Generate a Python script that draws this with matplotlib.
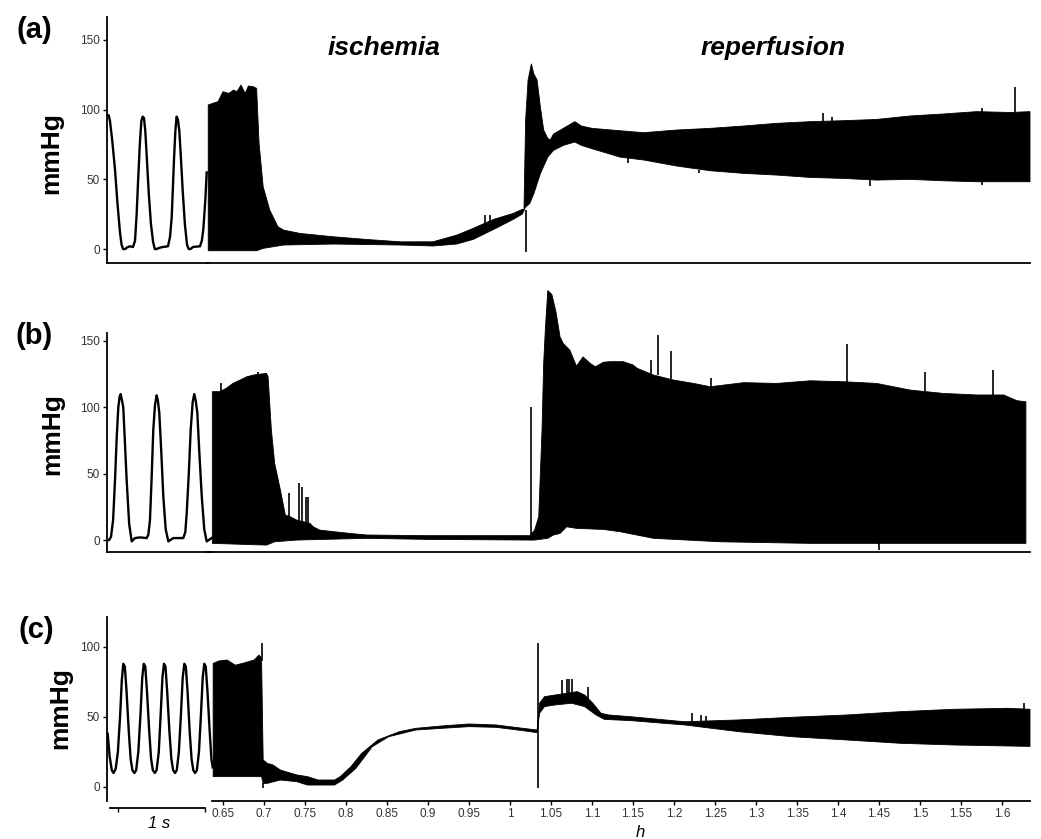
import numpy as np
import matplotlib
matplotlib.use("Agg")
import matplotlib.pyplot as plt   # noqa: E402

plt.rcParams["font.family"] = ["Liberation Sans", "DejaVu Sans"]

W, H = 1041, 839          # output size in px (dpi 100)
SEC_PX = 87               # px per second in the left insets

# ── left insets: ~1 s of raw pressure (t in s, p in mmHg) ──────────────
a_beat_t = [0.008, 0.020, 0.034, 0.060, 0.092, 0.120, 0.149, 0.168, 0.185, 0.210,
            0.226, 0.264, 0.299, 0.322, 0.340, 0.356, 0.378, 0.395, 0.410, 0.425,
            0.440, 0.458, 0.480, 0.505, 0.530, 0.550, 0.568, 0.609, 0.644, 0.701,
            0.725, 0.744, 0.770, 0.785, 0.800, 0.815, 0.831, 0.850, 0.870, 0.895,
            0.920, 0.940, 0.960, 0.989, 1.069, 1.090, 1.107, 1.130, 1.146]
a_beat_p = [96, 96, 92, 78, 57, 33, 12, 3, 0, 0,
            1, 2, 1.5, 6, 24, 47, 76, 92, 95, 94,
            85, 65, 40, 18, 5, 0, 0, 1, 1.5, 2,
            9, 23, 64, 84, 95, 93, 85, 65, 42, 18,
            3, 0, 0, 1.5, 2, 6, 14, 35, 55]

b_beat_t = [0.0, 0.025, 0.046, 0.070, 0.092, 0.112, 0.130, 0.145, 0.157, 0.170,
            0.187, 0.205, 0.226, 0.255, 0.284, 0.322, 0.379, 0.456, 0.475, 0.494,
            0.512, 0.532, 0.552, 0.571, 0.585, 0.601, 0.625, 0.647, 0.675, 0.705,
            0.762, 0.877, 0.900, 0.916, 0.940, 0.962, 0.985, 1.003, 1.020, 1.038,
            1.062, 1.089, 1.118, 1.146, 1.203]
b_beat_p = [0, 0, 2.5, 15, 45, 78, 100, 108, 110, 106,
            100, 75, 45, 12, -1, 1.5, 2, 1.5, 4, 15,
            45, 83, 102, 109, 105, 96, 65, 33, 8, -1,
            1.5, 1.5, 6, 20, 50, 83, 104, 110, 105, 96,
            65, 33, 8, -1, 1.5]

c_beat_t = [0.008, 0.030, 0.055, 0.075, 0.100, 0.125, 0.150, 0.170, 0.187, 0.205,
            0.225, 0.250, 0.272, 0.292, 0.315, 0.335, 0.360, 0.385, 0.405, 0.423,
            0.440, 0.460, 0.485, 0.507, 0.527, 0.550, 0.570, 0.595, 0.617, 0.637,
            0.655, 0.672, 0.692, 0.717, 0.740, 0.760, 0.782, 0.802, 0.826, 0.850,
            0.870, 0.889, 0.906, 0.926, 0.950, 0.972, 0.992, 1.013, 1.033, 1.057,
            1.080, 1.100, 1.118, 1.135, 1.155, 1.180, 1.200, 1.215]
c_beat_p = [38, 22, 12, 10, 13, 25, 50, 76, 88, 86,
            68, 40, 20, 12, 10, 12, 25, 52, 78, 88,
            86, 68, 40, 20, 12, 10, 12, 25, 52, 78,
            88, 86, 68, 40, 20, 12, 10, 12, 25, 52,
            78, 88, 86, 68, 40, 20, 12, 10, 12, 25,
            52, 78, 88, 86, 68, 40, 20, 14]

# ── right: envelope of the compressed trace (h, mmHg) ─────────────────────
a_up_h = [0.632, 0.638, 0.644, 0.650, 0.657, 0.663, 0.667, 0.672, 0.677, 0.681,
          0.687, 0.691, 0.694, 0.699, 0.707, 0.717, 0.724, 0.744, 0.785, 0.825,
          0.866, 0.906, 0.935, 0.955, 0.980, 1.004, 1.015, 1.017, 1.019, 1.022,
          1.026, 1.029, 1.033, 1.037, 1.041, 1.046, 1.049, 1.053, 1.065, 1.079,
          1.087, 1.100, 1.134, 1.163, 1.203, 1.244, 1.285, 1.325, 1.366, 1.406,
          1.447, 1.488, 1.528, 1.569, 1.610, 1.634]
a_up_p = [103.4, 104.6, 105.8, 112.9, 111.7, 114.1, 112.9, 117.7, 111.7, 117,
          116.5, 115.3, 75.8, 44.7, 28, 16, 13.6, 11.2, 8.8, 6.9,
          5.2, 5.2, 10, 14.8, 21.3, 25.6, 28.5, 28.5, 92.6, 121.3,
          132.9, 125.7, 121.3, 102, 85.4, 79.4, 78.2, 82.5, 86.6, 91.4,
          88.3, 86.6, 84.9, 83.5, 85.4, 86.6, 88.3, 90.2, 91.4, 92.1,
          93, 95.5, 96.9, 98.6, 98, 98.6]
a_lo_h = [0.632, 0.691, 0.699, 0.724, 0.785, 0.866, 0.906, 0.935, 0.955, 0.980,
          1.004, 1.015, 1.019, 1.024, 1.029, 1.037, 1.046, 1.053, 1.065, 1.079,
          1.087, 1.100, 1.134, 1.163, 1.203, 1.244, 1.285, 1.325, 1.366, 1.406,
          1.447, 1.488, 1.528, 1.569, 1.610, 1.634]
a_lo_p = [-1.2, -1.2, 0.5, 2.9, 3.6, 2.9, 2.2, 3.6, 6.9, 14.1,
          21.3, 25.1, 30.2, 32.6, 39.7, 54.1, 66, 70.8, 74.4, 76.8,
          74.4, 72, 66, 63.9, 59.6, 56.2, 54.3, 53.1, 51.4, 50.7,
          49.5, 50, 49, 48.3, 48.3, 48.3]
a_spk_h = [0.970, 0.976, 1.0195, 1.144, 1.231, 1.382, 1.392, 1.439, 1.575, 1.575, 1.616]
a_spk_lo = [17, 17, -1.9, 61.5, 54.3, 90, 90, 45.2, 46, 96, 96]
a_spk_hi = [24.4, 24.4, 28, 66, 57, 97.4, 95, 50, 49, 101, 116.5]

b_up_h = [0.637, 0.646, 0.654, 0.662, 0.671, 0.679, 0.687, 0.703, 0.705, 0.709,
          0.713, 0.720, 0.726, 0.732, 0.740, 0.748, 0.756, 0.760, 0.768, 0.785,
          0.805, 0.825, 0.900, 1.024, 1.030, 1.035, 1.039, 1.041, 1.043, 1.046,
          1.051, 1.056, 1.061, 1.065, 1.073, 1.081, 1.089, 1.098, 1.104, 1.114,
          1.122, 1.138, 1.150, 1.155, 1.175, 1.199, 1.224, 1.244, 1.285, 1.325,
          1.366, 1.406, 1.447, 1.488, 1.528, 1.569, 1.602, 1.618, 1.629]
b_up_p = [111.8, 111.8, 114.3, 118, 120.6, 123, 124.3, 125.6, 123, 82.9,
          57.8, 37.7, 18.8, 17.6, 15, 13.8, 12.6, 10, 7.5, 6.3,
          5, 3.8, 3.3, 3.3, 7.5, 17.6, 82.9, 133, 158, 188,
          185, 172, 153, 148, 143, 131, 138, 133, 130.6, 134,
          134.4, 134.4, 131.9, 129.4, 124.3, 120.6, 118, 115.5, 118.6, 118,
          120, 119.3, 118, 113, 110.5, 109.3, 109.3, 105, 104.2]
b_lo_h = [0.637, 0.703, 0.713, 0.740, 0.825, 0.900, 1.024, 1.030, 1.046, 1.053,
          1.061, 1.069, 1.081, 1.114, 1.134, 1.175, 1.256, 1.366, 1.629]
b_lo_p = [-2.5, -3.8, -1.3, 0, 1.3, 0.5, 0, 0, 1.3, 3.8,
          5, 10, 8.8, 8.0, 6.3, 1.3, -1.3, -2.5, -2.5]
b_spk_h = [0.648, 0.693, 0.730, 0.743, 0.746, 0.751, 0.754, 1.026, 1.172, 1.180,
           1.196, 1.245, 1.411, 1.450, 1.506, 1.589]
b_spk_lo = [112, 124, 17, 14, 13, 12.5, 12, 0, 125, 124,
            121, 115, 119, -7.5, 112, 109]
b_spk_hi = [118, 126.8, 35.2, 42.7, 40.2, 32.6, 32.6, 100.5, 136, 154.5,
            142.7, 121.8, 147.7, -2.5, 126.8, 128]

c_up_h = [0.638, 0.645, 0.655, 0.665, 0.674, 0.688, 0.694, 0.697, 0.699, 0.704,
          0.711, 0.720, 0.740, 0.753, 0.766, 0.786, 0.793, 0.806, 0.819, 0.839,
          0.865, 0.885, 0.917, 0.950, 0.983, 1.016, 1.033, 1.036, 1.042, 1.055,
          1.069, 1.082, 1.091, 1.101, 1.111, 1.121, 1.147, 1.213, 1.279, 1.344,
          1.410, 1.476, 1.541, 1.607, 1.634]
c_up_p = [88.3, 90, 90.7, 87, 88.3, 90.7, 94.3, 92, 19.3, 16.9,
          15.7, 12.1, 8.6, 7.4, 5, 5, 7.4, 14.5, 24, 33.6,
          39.5, 41.9, 43.6, 45, 44.3, 41.9, 40.7, 59.8, 64.5, 65.7,
          66.9, 68.1, 65.7, 59.8, 52.6, 51.4, 50.2, 46.6, 47.9, 49.8,
          51.4, 53.8, 55.5, 56.2, 55.5]
c_lo_h = [0.638, 0.697, 0.699, 0.704, 0.720, 0.740, 0.753, 0.786, 0.796, 0.812,
          0.832, 0.852, 0.885, 0.917, 0.950, 0.983, 1.016, 1.033, 1.036, 1.042,
          1.055, 1.075, 1.091, 1.105, 1.115, 1.147, 1.213, 1.279, 1.344, 1.410,
          1.476, 1.541, 1.607, 1.634]
c_lo_p = [7.4, 7.4, 2.6, 2.6, 5, 3.8, 1.4, 1.4, 5, 13.3,
          28.8, 35.9, 40.7, 41.9, 43.1, 42.6, 40.2, 38.8, 52.6, 57.4,
          58.6, 59.8, 57.4, 51.4, 48.3, 47.4, 44.3, 39.5, 35.9, 33.6,
          31.2, 30, 29.3, 29]
c_spk_h = [0.697, 0.699, 1.034, 1.063, 1.069, 1.072, 1.075, 1.095, 1.222, 1.233,
           1.239, 1.627]
c_spk_lo = [90, -0.9, -0.9, 66, 66, 66, 66, 63, 46, 46,
            46, 55]
c_spk_hi = [102.6, 2.6, 102.6, 76.4, 77.1, 77.1, 77.1, 71.6, 52.6, 51.4,
            50.8, 59.8]

h_ticks = [0.65, 0.7, 0.75, 0.8, 0.85, 0.9, 0.95, 1.0, 1.05, 1.1,
           1.15, 1.2, 1.25, 1.3, 1.35, 1.4, 1.45, 1.5, 1.55, 1.6]

TICK_KW = dict(labelsize=8.5, labelcolor="#333333", length=3, width=1, pad=2)

fig = plt.figure(figsize=(W / 100, H / 100), dpi=100)


def add_ax(x0, y0, x1, y1):
    ax = fig.add_axes([x0 / W, 1 - y1 / H, (x1 - x0) / W, (y1 - y0) / H])
    ax.patch.set_visible(False)
    for s in ("top", "right"):
        ax.spines[s].set_visible(False)
    for s in ("left", "bottom"):
        ax.spines[s].set_linewidth(1.3)
    return ax


def panel(y0, y1, ylim, yticks, left_end, beat, up, lo, spk, last=False):
    # left inset, seconds
    axl = add_ax(107, y0, left_end, y1)
    axl.plot(beat[0], beat[1], color="k", lw=1.7, solid_joinstyle="round")
    axl.set_xlim(0, (left_end - 107) / SEC_PX)
    axl.set_ylim(*ylim)
    axl.set_yticks(yticks)
    axl.tick_params(axis="y", **TICK_KW)
    axl.set_xticks([])

    # compressed trace, hours
    axr = add_ax(207, y0, 1030, y1)
    axr.spines["left"].set_visible(False)
    axr.fill(np.r_[up[0], lo[0][::-1]], np.r_[up[1], lo[1][::-1]],
             color="k", lw=0.6, clip_on=False)
    axr.vlines(spk[0], spk[1], spk[2], color="k", lw=1.2, clip_on=False)
    axr.set_xlim(0.6305, 1.634)
    axr.set_ylim(*ylim)
    axr.set_yticks([])
    if last:
        axr.spines["bottom"].set_bounds(0.637, 1.634)
        axr.set_xticks(h_ticks, [f"{t:g}" for t in h_ticks])
        axr.tick_params(axis="x", **TICK_KW)
        # 1 s scale bar under the inset
        axl.spines["bottom"].set_position(("outward", 5))
        axl.spines["bottom"].set_bounds(0.034, 1.126)
        axl.set_xticks([0.126, 1.126], ["", ""])
        axl.tick_params(axis="x", length=3, width=1)
    else:
        axr.set_xticks([])
    return axl, axr


panel(17, 263, (-10, 166.5), [0, 50, 100, 150], 208,
      (a_beat_t, a_beat_p), (a_up_h, a_up_p), (a_lo_h, a_lo_p),
      (a_spk_h, a_spk_lo, a_spk_hi))
panel(333, 552, (-9, 156), [0, 50, 100, 150], 213,
      (b_beat_t, b_beat_p), (b_up_h, b_up_p), (b_lo_h, b_lo_p),
      (b_spk_h, b_spk_lo, b_spk_hi))
panel(617, 801, (-10, 121.4), [0, 50, 100], 213,
      (c_beat_t, c_beat_p), (c_up_h, c_up_p), (c_lo_h, c_lo_p),
      (c_spk_h, c_spk_lo, c_spk_hi), last=True)


def ftext(x, y, s, **kw):
    fig.text(x / W, 1 - y / H, s, **kw)


for lab, x, y in [("(a)", 34, 30), ("(b)", 34, 336), ("(c)", 36, 630)]:
    ftext(x, y, lab, fontsize=21, fontweight="bold", ha="center", va="center")
for x, y in [(51, 153), (52, 434), (60, 708)]:
    ftext(x, y, "mmHg", fontsize=19, fontweight="bold", rotation=90,
          ha="center", va="center")

ftext(384, 55, "ischemia", fontsize=19, fontweight="bold", style="italic",
      ha="center", va="baseline")
ftext(773, 55, "reperfusion", fontsize=19, fontweight="bold", style="italic",
      ha="center", va="baseline")
ftext(159, 828, "1 s", fontsize=12, style="italic", ha="center", va="baseline")
ftext(640, 837, "h", fontsize=12, style="italic", ha="center", va="baseline")

fig.savefig("out.png", dpi=100)
